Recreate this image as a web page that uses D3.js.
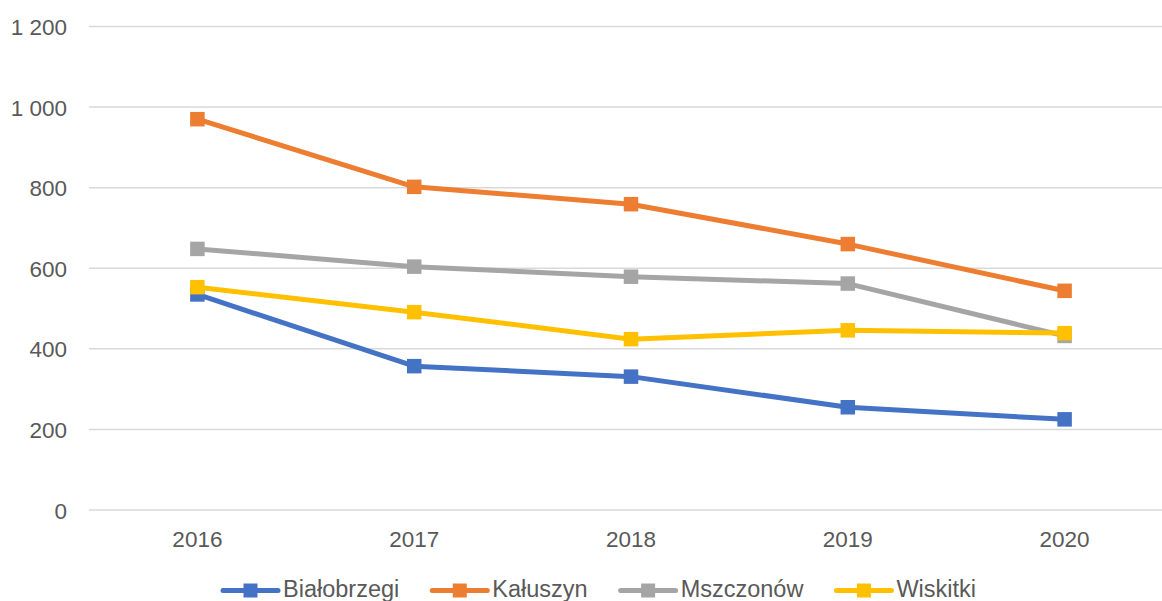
<!DOCTYPE html>
<html>
<head>
<meta charset="utf-8">
<script src="https://cdn.jsdelivr.net/npm/d3@7"></script>
<style>
  html, body { margin: 0; padding: 0; background: #fff; }
  svg { display: block; }
  text { font-family: "Liberation Sans", Arial, sans-serif; fill: #595959; }
</style>
</head>
<body>
<svg id="chart" width="1162" height="601"></svg>
<script>
// Years on the horizontal axis
const years = ["2016", "2017", "2018", "2019", "2020"];

// One value array per gmina
const bialobrzegi = [535, 357, 331, 255, 225];
const kaluszyn    = [970, 802, 759, 660, 544];
const mszczonow   = [648, 604, 579, 562, 432];
const wiskitki    = [553, 491, 424, 446, 439];

const seriesNames  = ["Białobrzegi", "Kałuszyn", "Mszczonów", "Wiskitki"];
const seriesColors = ["#4472C4", "#ED7D31", "#A5A5A5", "#FFC000"];

// Value axis ticks
const yTicks = [0, 200, 400, 600, 800, 1000, 1200];

const series = [bialobrzegi, kaluszyn, mszczonow, wiskitki].map((vals, i) => ({
  name: seriesNames[i],
  color: seriesColors[i],
  values: vals
}));

const svg = d3.select("#chart");

const plot = { left: 89, right: 1173, top: 26.5, bottom: 510 };

const x = d3.scaleBand().domain(years).range([plot.left, plot.right]);
const y = d3.scaleLinear().domain([0, 1200]).range([plot.bottom, plot.top]);
const xc = d => x(d) + x.bandwidth() / 2;

const fmt = v => d3.format(",")(v).replace(/,/g, " ");

// Horizontal gridlines
svg.append("g")
  .selectAll("line")
  .data(yTicks)
  .join("line")
  .attr("x1", plot.left)
  .attr("x2", plot.right)
  .attr("y1", d => y(d))
  .attr("y2", d => y(d))
  .attr("stroke", "#D9D9D9")
  .attr("stroke-width", 1.5);

// Y axis labels
const yAxis = d3.axisLeft(y).tickValues(yTicks).tickFormat(fmt).tickSize(0).tickPadding(0);
const gy = svg.append("g")
  .attr("transform", `translate(67,0)`)
  .call(yAxis);
gy.select(".domain").remove();
gy.selectAll("text")
  .attr("font-size", 22.5)
  .attr("font-family", "Liberation Sans, Arial, sans-serif")
  .attr("fill", "#595959")
  .attr("dy", "0.36em");

// X axis labels
const xAxis = d3.axisBottom(x).tickSize(0).tickPadding(0);
const gx = svg.append("g")
  .attr("transform", `translate(0,${plot.bottom})`)
  .call(xAxis);
gx.select(".domain").remove();
gx.selectAll("text")
  .attr("font-size", 22.5)
  .attr("font-family", "Liberation Sans, Arial, sans-serif")
  .attr("fill", "#595959")
  .attr("dy", 0)
  .attr("y", 37);

// Lines and square markers
const line = d3.line()
  .x((d, i) => xc(years[i]))
  .y(d => y(d));

const MS = 14.5;
const gSeries = svg.append("g")
  .selectAll("g")
  .data(series)
  .join("g");

gSeries.append("path")
  .attr("d", d => line(d.values))
  .attr("fill", "none")
  .attr("stroke", d => d.color)
  .attr("stroke-width", 5)
  .attr("stroke-linejoin", "round")
  .attr("stroke-linecap", "round");

gSeries.selectAll("rect")
  .data(d => d.values.map((v, i) => ({ v, year: years[i], color: d.color })))
  .join("rect")
  .attr("x", d => xc(d.year) - MS / 2)
  .attr("y", d => y(d.v) - MS / 2)
  .attr("width", MS)
  .attr("height", MS)
  .attr("fill", d => d.color);

// Legend
const legend = svg.append("g");
const lineLen = 55, textGap = 5, itemGap = 33, legendY = 590.5;
const items = legend.selectAll("g")
  .data(series)
  .join("g");

items.append("line")
  .attr("x1", 0).attr("x2", lineLen)
  .attr("y1", legendY).attr("y2", legendY)
  .attr("stroke", d => d.color)
  .attr("stroke-width", 5)
  .attr("stroke-linecap", "round");
items.append("rect")
  .attr("x", lineLen / 2 - 7)
  .attr("y", legendY - 7)
  .attr("width", 14)
  .attr("height", 14)
  .attr("fill", d => d.color);
items.append("text")
  .attr("x", lineLen + textGap)
  .attr("y", legendY + 6.5)
  .attr("font-size", 23.5)
  .text(d => d.name);

const widths = [];
items.each(function () {
  const tw = d3.select(this).select("text").node().getComputedTextLength();
  widths.push(lineLen + textGap + tw);
});
const legendStart = 223;
let offset = 0;
items.attr("transform", (d, i) => {
  const tx = legendStart + offset;
  offset += widths[i] + itemGap;
  return `translate(${tx},0)`;
});
</script>
</body>
</html>
